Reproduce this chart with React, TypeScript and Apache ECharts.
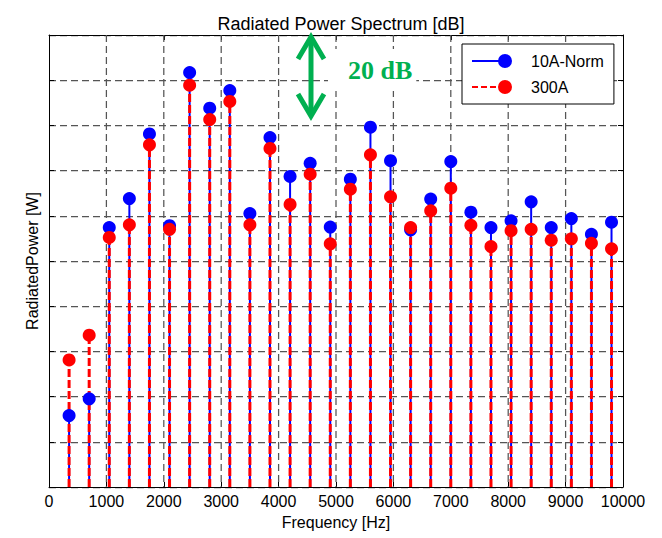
import React, { useEffect, useRef } from 'react';
import * as echarts from 'echarts';

const frequencies = [350, 700, 1050, 1400, 1750, 2100, 2450, 2800, 3150, 3500, 3850, 4200, 4550, 4900, 5250, 5600, 5950, 6300, 6650, 7000, 7350, 7700, 8050, 8400, 8750, 9100, 9450, 9800];
const norm10A = [15.8, 19.5, 57.4, 63.8, 78.1, 57.8, 91.7, 83.8, 87.7, 60.5, 77.3, 68.7, 71.6, 57.5, 68.1, 79.6, 72.2, 56.9, 63.7, 72.0, 60.8, 57.4, 58.9, 63.1, 57.4, 59.4, 55.9, 58.6];
const amp300 = [28.1, 33.6, 55.2, 58.0, 75.7, 57.0, 88.9, 81.3, 85.3, 58.0, 74.9, 62.5, 69.2, 53.8, 65.9, 73.5, 64.2, 57.4, 61.1, 66.1, 57.9, 53.2, 56.7, 57.0, 54.6, 54.9, 53.9, 52.7];
const xGridTicks = [1000, 2000, 3000, 4000, 5000, 6000, 7000, 8000, 9000];
const seriesNames = ['10A-Norm', '300A'];
const titleText = 'Radiated Power Spectrum [dB]';
const xName = 'Frequency [Hz]';
const yName = 'RadiatedPower [W]';
const annotationText = '20 dB';

const BLUE = '#0000FF';
const RED = '#FF0000';
const GREEN = '#00B050';
const GRID_COLOR = '#555';
const GRID_WIDTH = 1.25;
const FONT = '"Liberation Sans", Arial, Helvetica, sans-serif';
const Y_MIN = 0;
const Y_MAX = 100;

const solidIcon = 'path://M0,6H33V8H0Z M26,7A7,7 0 1 1 40,7A7,7 0 1 1 26,7Z';
const dashIcon = 'path://M0,6H6V8H0Z M9,6H15V8H9Z M18,6H24V8H18Z M27,6H30V8H27Z M26,7A7,7 0 1 1 40,7A7,7 0 1 1 26,7Z';

function stemSeries(name: string, values: number[], color: string, width: number, dash: number[] | null) {
  return {
    type: 'custom',
    name: name + ' stem',
    xAxisIndex: 0,
    yAxisIndex: 0,
    data: frequencies.map((f, i) => [f, values[i]]),
    encode: { x: 0, y: 1 },
    itemStyle: { color },
    renderItem: (_params: any, api: any) => {
      const x = api.value(0);
      const y = api.value(1);
      const top = api.coord([x, y]);
      const base = api.coord([x, Y_MIN]);
      return {
        type: 'line',
        shape: { x1: base[0], y1: base[1], x2: top[0], y2: top[1] },
        style: { stroke: color, lineWidth: width, lineDash: dash || undefined, fill: null },
      };
    },
  };
}

function markerSeries(name: string, values: number[], color: string) {
  return {
    type: 'scatter',
    name,
    xAxisIndex: 0,
    yAxisIndex: 0,
    symbol: 'circle',
    symbolSize: 13,
    itemStyle: { color, opacity: 1 },
    data: frequencies.map((f, i) => [f, values[i]]),
  };
}

const verticalGridSeries = {
  type: 'custom',
  name: 'xgrid',
  xAxisIndex: 0,
  yAxisIndex: 0,
  z: 1,
  silent: true,
  data: xGridTicks.map((t) => [t, Y_MAX]),
  encode: { x: 0, y: 1 },
  itemStyle: { color: GRID_COLOR },
  renderItem: (_params: any, api: any) => {
    const x = api.value(0);
    const a = api.coord([x, Y_MIN]);
    const b = api.coord([x, Y_MAX]);
    return {
      type: 'line',
      shape: { x1: a[0], y1: b[1], x2: a[0], y2: a[1] },
      style: { stroke: GRID_COLOR, lineWidth: GRID_WIDTH, lineDash: [7, 4], fill: null },
    };
  },
};

export default function App() {
  const ref = useRef<HTMLDivElement>(null);
  useEffect(() => {
    if (!ref.current) return;
    const chart = echarts.init(ref.current, undefined, { renderer: 'svg' });
    const axisBase = {
      axisLine: { show: true, onZero: false, lineStyle: { color: '#000', width: 1 } },
      axisTick: { show: true, inside: true, length: 5, lineStyle: { color: '#000' } },
    };
    chart.setOption({
      animation: false,
      backgroundColor: '#fff',
      textStyle: { fontFamily: FONT },
      title: {
        text: titleText,
        left: 336,
        top: 10,
        textAlign: 'center',
        textStyle: { fontFamily: FONT, fontSize: 18, fontWeight: 'normal', color: '#000' },
      },
      legend: {
        orient: 'vertical',
        left: 462,
        top: 44,
        padding: [9, 10, 9, 10],
        itemGap: 10,
        itemWidth: 40,
        itemHeight: 14,
        borderColor: '#000',
        borderWidth: 1,
        borderRadius: 0,
        backgroundColor: '#fff',
        selectedMode: false,
        textStyle: { fontFamily: FONT, fontSize: 16, color: '#000', padding: [0, 0, 0, 14] },
        data: [
          { name: seriesNames[0], icon: solidIcon },
          { name: seriesNames[1], icon: dashIcon },
        ],
      },
      grid: { left: 49, right: 39, top: 35, bottom: 51, containLabel: false },
      xAxis: [
        {
          type: 'value',
          min: 0,
          max: 10000,
          interval: 1000,
          name: xName,
          nameLocation: 'middle',
          nameGap: 27,
          nameTextStyle: { fontFamily: FONT, fontSize: 16, color: '#000' },
          ...axisBase,
          axisLabel: { fontFamily: FONT, fontSize: 16, color: '#000', margin: 6, formatter: (v: number) => String(v) },
          splitLine: { show: false },
        },
        {
          type: 'value',
          position: 'top',
          min: 0,
          max: 10000,
          interval: 1000,
          ...axisBase,
          axisLabel: { show: false },
          splitLine: { show: false },
        },
      ],
      yAxis: [
        {
          type: 'value',
          min: Y_MIN,
          max: Y_MAX,
          interval: 10,
          name: yName,
          nameLocation: 'middle',
          nameGap: 9,
          nameTextStyle: { fontFamily: FONT, fontSize: 16, color: '#000' },
          ...axisBase,
          axisLabel: { show: false },
          splitLine: { show: true, lineStyle: { color: GRID_COLOR, width: GRID_WIDTH, type: [7, 4] } },
        },
        {
          type: 'value',
          position: 'right',
          min: Y_MIN,
          max: Y_MAX,
          interval: 10,
          ...axisBase,
          axisLabel: { show: false },
          splitLine: { show: false },
        },
      ],
      series: [
        verticalGridSeries,
        stemSeries(seriesNames[0], norm10A, BLUE, 2, null),
        stemSeries(seriesNames[1], amp300, RED, 3, [8, 3]),
        markerSeries(seriesNames[0], norm10A, BLUE),
        markerSeries(seriesNames[1], amp300, RED),
      ],
      graphic: [
        {
          type: 'text',
          x: 328,
          y: 70,
          z: 99,
          style: {
            text: annotationText,
            fill: GREEN,
            font: 'bold 26px "Liberation Serif", "Times New Roman", serif',
            verticalAlign: 'middle',
            backgroundColor: '#fff',
            padding: [9, 4, 7, 20],
          },
        },
        {
          type: 'polyline',
          shape: { points: [[311, 38], [311, 115]] },
          style: { stroke: GREEN, lineWidth: 5, fill: null },
          z: 100,
        },
        {
          type: 'polyline',
          shape: { points: [[298, 59], [311, 37], [324, 59]] },
          style: { stroke: GREEN, lineWidth: 5, fill: null, lineJoin: 'miter' },
          z: 100,
        },
        {
          type: 'polyline',
          shape: { points: [[298, 94], [311, 116], [324, 94]] },
          style: { stroke: GREEN, lineWidth: 5, fill: null, lineJoin: 'miter' },
          z: 100,
        },
      ],
    });
    return () => chart.dispose();
  }, []);
  return <div ref={ref} style={{ position: 'absolute', left: 0, top: 0, width: 662, height: 538 }} />;
}
